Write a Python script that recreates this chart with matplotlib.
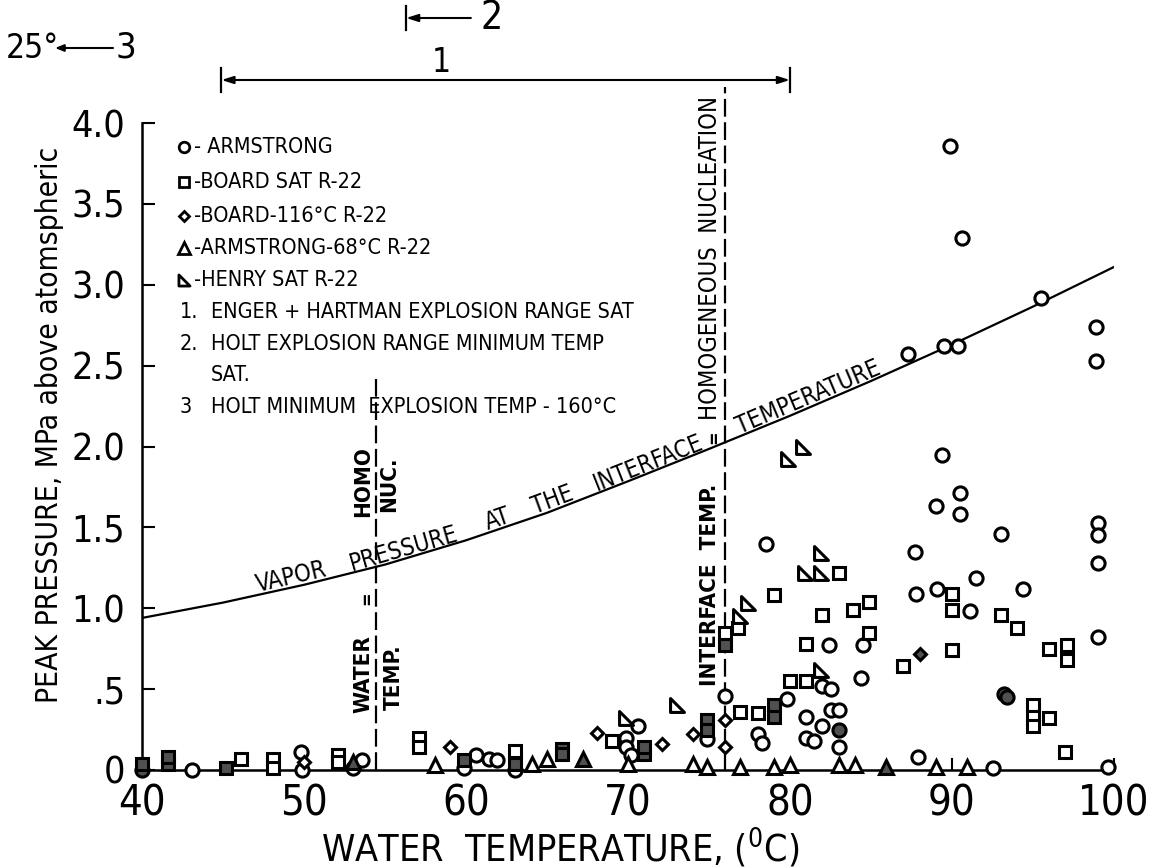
import numpy as np
import matplotlib
matplotlib.use("Agg")
import matplotlib.pyplot as plt
from matplotlib import font_manager as fm
from matplotlib import transforms
from matplotlib.patches import FancyArrowPatch
from matplotlib.path import Path
from matplotlib.lines import Line2D

# ---------------- data ----------------
# vapor pressure of R-22 at the interface temperature (MPa above atmospheric)
curve_T = [40, 45, 50, 55, 60, 65, 70, 75, 80, 85, 90, 95, 100]
curve_P = [0.94, 1.035, 1.145, 1.27, 1.42, 1.59, 1.785, 1.985, 2.19, 2.405, 2.63, 2.865, 3.11]

# Armstrong (open circles)
armstrong_T = [43.1, 49.8, 49.9, 53.0, 53.6, 59.9, 60.6, 61.4, 61.9, 63.0, 70.6, 69.9,
               69.9, 70.2, 74.9, 76.0, 78.0, 78.3, 79.8, 81.0, 81.0, 81.5, 82.0, 82.0,
               82.5, 82.5, 83.0, 83.0, 82.4, 84.4, 84.5, 87.9, 92.5, 99.6, 99.0, 91.1,
               78.5, 89.4, 90.5, 89.0, 90.5, 93.0, 99.0, 99.0, 99.0, 87.7, 91.5, 87.8,
               89.1, 94.4, 89.9, 90.6, 95.5, 98.9, 98.9, 87.3, 89.5, 90.4]
armstrong_P = [0.00, 0.11, 0.00, 0.01, 0.06, 0.01, 0.09, 0.07, 0.06, 0.00, 0.27, 0.20,
               0.14, 0.09, 0.19, 0.46, 0.22, 0.17, 0.44, 0.33, 0.20, 0.18, 0.27, 0.52,
               0.50, 0.37, 0.37, 0.14, 0.77, 0.57, 0.77, 0.08, 0.01, 0.02, 0.82, 0.98,
               1.40, 1.95, 1.71, 1.63, 1.58, 1.46, 1.53, 1.45, 1.28, 1.35, 1.19, 1.09,
               1.12, 1.12, 3.86, 3.29, 2.92, 2.74, 2.53, 2.57, 2.62, 2.62]
armstrong_shaded_T = [40.0, 83.0, 93.2, 93.4]
armstrong_shaded_P = [0.00, 0.25, 0.47, 0.45]

# Board, saturated R-22 (squares)
board_sat_T = [46.1, 48.1, 48.1, 52.1, 52.1, 57.1, 57.1, 63.0, 69.0, 76.0, 76.9, 76.8,
               78.0, 79.0, 80.0, 81.0, 81.0, 82.0, 83.0, 83.9, 84.9, 84.9, 87.0, 90.0,
               90.0, 90.0, 93.0, 94.0, 95.0, 95.0, 95.0, 96.0, 96.0, 97.1, 97.1, 97.0]
board_sat_P = [0.07, 0.07, 0.01, 0.09, 0.05, 0.20, 0.14, 0.12, 0.18, 0.85, 0.36, 0.88,
               0.35, 1.08, 0.55, 0.55, 0.78, 0.96, 1.22, 0.99, 1.04, 0.85, 0.64, 1.09,
               0.99, 0.74, 0.96, 0.88, 0.40, 0.33, 0.27, 0.32, 0.75, 0.77, 0.68, 0.11]
board_sat_shaded_T = [40.0, 41.6, 41.6, 45.2, 59.9, 63.0, 65.9, 65.9, 71.0, 71.0, 74.9,
                      74.9, 76.0, 79.0, 79.0]
board_sat_shaded_P = [0.04, 0.04, 0.08, 0.01, 0.06, 0.04, 0.13, 0.10, 0.10, 0.14, 0.31,
                      0.25, 0.77, 0.40, 0.33]

# Board, R-22 at -116 C (diamonds)
board_116_T = [50.0, 59.0, 68.1, 72.1, 74.0, 76.0, 76.0]
board_116_P = [0.05, 0.14, 0.23, 0.16, 0.22, 0.31, 0.14]
board_116_shaded_T = [88.0]
board_116_shaded_P = [0.72]

# Armstrong, R-22 at -68 C (triangles)
arm68_T = [58.1, 64.1, 65.0, 70.0, 74.0, 74.9, 76.9, 79.0, 80.0, 83.0, 84.0, 89.0, 90.9]
arm68_P = [0.03, 0.04, 0.07, 0.04, 0.04, 0.02, 0.02, 0.02, 0.03, 0.03, 0.03, 0.02, 0.02]
arm68_shaded_T = [53.0, 67.2, 85.9]
arm68_shaded_P = [0.05, 0.07, 0.02]

# Henry, saturated R-22 (right triangles)
henry_T = [69.9, 73.0, 76.9, 77.4, 79.9, 80.8, 81.9, 80.9, 81.9, 81.9]
henry_P = [0.32, 0.40, 0.95, 1.03, 1.92, 2.00, 1.34, 1.22, 1.22, 0.62]

# reference temperatures (C)
water_homo_T = 54.45          # homogeneous nucleation = water temperature
interface_homo_T = 76.0       # homogeneous nucleation = interface temperature
enger_hartman_range = [44.9, 80.0]
holt_range_min = 56.3
holt_min_temp = 25

x_ticks = [40, 50, 60, 70, 80, 90, 100]
y_ticks = [0, 0.5, 1.0, 1.5, 2.0, 2.5, 3.0, 3.5, 4.0]
y_tick_labels = ["0", ".5", "1.0", "1.5", "2.0", "2.5", "3.0", "3.5", "4.0"]

curve_words = ["VAPOR", "PRESSURE", "AT", "THE", "INTERFACE", "TEMPERATURE"]
curve_word_T = [49.3, 56.3, 62.1, 65.5, 71.4, 81.3]

legend_rows = [
    ("o", "- ARMSTRONG"),
    ("s", "-BOARD SAT R-22"),
    ("D", "-BOARD-116\u00b0C R-22"),
    ("^", "-ARMSTRONG-68\u00b0C R-22"),
    ("henry", "-HENRY SAT R-22"),
]
note_rows = [
    ("1.", "ENGER + HARTMAN EXPLOSION RANGE SAT"),
    ("2.", "HOLT EXPLOSION RANGE MINIMUM TEMP"),
    ("", "SAT."),
    ("3", "HOLT MINIMUM  EXPLOSION TEMP - 160\u00b0C"),
]

# ---------------- fonts ----------------
available = {f.name for f in fm.fontManager.ttflist}
if "Liberation Sans Narrow" in available:
    FAMILY, STRETCH = "Liberation Sans Narrow", "normal"
else:
    FAMILY, STRETCH = "DejaVu Sans", "condensed"
plt.rcParams["font.family"] = [FAMILY, "DejaVu Sans"]
plt.rcParams["font.stretch"] = STRETCH
plt.rcParams["mathtext.fontset"] = "custom"
plt.rcParams["mathtext.rm"] = FAMILY

# ---------------- layout helpers ----------------
W, H = 1152, 868
AX_L, AX_R, AX_T, AX_B = 142, 1114, 123, 770


def fx(px):
    return px / W


def fy(py):
    return 1 - py / H


fig = plt.figure(figsize=(W / 100, H / 100), dpi=100)
ax = fig.add_axes([fx(AX_L), fy(AX_B), (AX_R - AX_L) / W, (AX_B - AX_T) / H])
ax.set_xlim(40, 100)
ax.set_ylim(0, 4.0)
for side in ("top", "right"):
    ax.spines[side].set_visible(False)
for side in ("left", "bottom"):
    ax.spines[side].set_linewidth(1.8)
ax.set_xticks(x_ticks)
ax.set_xticklabels([str(t) for t in x_ticks])
ax.set_yticks(y_ticks)
ax.set_yticklabels(y_tick_labels)
ax.tick_params(direction="in", length=9, width=1.5)
ax.tick_params(axis="x", labelsize=30, pad=9)
ax.tick_params(axis="y", labelsize=27, pad=12)

fig.text(fx(560), fy(848), "WATER  TEMPERATURE, ($^{\\rm 0}$C)", fontsize=27,
         ha="center", va="center")
fig.text(fx(50), fy(425), "PEAK PRESSURE, MPa above atomspheric", fontsize=21.5,
         rotation=90, ha="center", va="center")

# ---------------- vapor pressure curve ----------------
ax.plot(curve_T, curve_P, color="black", lw=1.6, zorder=3)
slope = np.gradient(np.array(curve_P), np.array(curve_T))
lift = transforms.offset_copy(ax.transData, fig=fig, x=0, y=3, units="dots")
for word, t in zip(curve_words, curve_word_T):
    p = np.interp(t, curve_T, curve_P)
    ang = np.degrees(np.arctan(np.interp(t, curve_T, slope)))
    ax.text(t, p, word, transform=lift, rotation=ang, transform_rotates_text=True,
            rotation_mode="anchor", ha="center", va="baseline", fontsize=17)

# ---------------- homogeneous nucleation lines ----------------
dash = dict(color="black", lw=1.6, dashes=(8, 2.5), clip_on=False, zorder=2)
ax.plot([water_homo_T, water_homo_T], [0, 2.42], **dash)
ax.plot([interface_homo_T, interface_homo_T], [0, 4.22], **dash)


def side_text(t, py, dx, s, **kw):
    tr = transforms.offset_copy(transforms.blended_transform_factory(ax.transData, fig.transFigure),
                                fig=fig, x=dx, y=0, units="dots")
    ax.text(t, fy(py), s, transform=tr, rotation=90, ha="center", va="center", **kw)


bold = dict(fontsize=16, fontweight="bold")
side_text(water_homo_T, 482, -13, "HOMO", **bold)
side_text(water_homo_T, 484, 13, "NUC.", **bold)
side_text(water_homo_T, 598, -9, "=", fontsize=13, fontweight="bold")
side_text(water_homo_T, 674, -13, "WATER", **bold)
side_text(water_homo_T, 677, 18, "TEMP.", **bold)
side_text(interface_homo_T, 585, -15, "INTERFACE  TEMP.", **bold)
side_text(interface_homo_T, 437, -11, "=", fontsize=13, fontweight="bold")
side_text(interface_homo_T, 258, -15, "HOMOGENEOUS  NUCLEATION", fontsize=17)

# ---------------- data points ----------------
henry_marker = Path([(-1, -1), (1, -1), (-1, 1), (-1, -1)],
                    [Path.MOVETO, Path.LINETO, Path.LINETO, Path.CLOSEPOLY])
MK = {"o": 9.5, "s": 9, "D": 6.5, "^": 10, "henry": 10}
SHADE = "#505050"


def scatter(T, P, marker, face="white"):
    m = henry_marker if marker == "henry" else marker
    ax.plot(T, P, linestyle="none", marker=m, ms=MK[marker], mew=2.2,
            mfc=face, mec="black", clip_on=False, zorder=4)


scatter(armstrong_T, armstrong_P, "o")
scatter(armstrong_shaded_T, armstrong_shaded_P, "o", SHADE)
scatter(board_sat_T, board_sat_P, "s")
scatter(board_sat_shaded_T, board_sat_shaded_P, "s", SHADE)
scatter(board_116_T, board_116_P, "D")
scatter(board_116_shaded_T, board_116_shaded_P, "D", SHADE)
scatter(arm68_T, arm68_P, "^")
scatter(arm68_shaded_T, arm68_shaded_P, "^", SHADE)
scatter(henry_T, henry_P, "henry")

# ---------------- key ----------------
LEG_FS = 15.5
row_y = [147, 182, 216, 248, 280]
for (mk, label), py in zip(legend_rows, row_y):
    m = henry_marker if mk == "henry" else mk
    fig.add_artist(Line2D([fx(184)], [fy(py)], transform=fig.transFigure, marker=m,
                          ms=MK[mk] * 0.8, mew=2.0, mfc="white", mec="black",
                          linestyle="none"))
    fig.text(fx(194), fy(py), label, fontsize=LEG_FS, ha="left", va="center")
for (num, label), py in zip(note_rows, [312, 344, 375, 407]):
    if num:
        fig.text(fx(180), fy(py), num, fontsize=LEG_FS, ha="left", va="center")
    fig.text(fx(211), fy(py), label, fontsize=LEG_FS, ha="left", va="center")

# ---------------- explosion ranges above the plot ----------------
top = transforms.blended_transform_factory(ax.transData, fig.transFigure)
arrow_kw = dict(arrowstyle="-|>,head_length=0.7,head_width=0.22", color="black", lw=1.5,
                shrinkA=0, shrinkB=0)

# 1: Enger + Hartman range
y1 = fy(80)
t_mid = 0.5 * (enger_hartman_range[0] + enger_hartman_range[1])
for t_end in enger_hartman_range:
    ax.annotate("", xy=(t_end, y1), xytext=(t_mid, y1), xycoords=top, textcoords=top,
                arrowprops=arrow_kw, annotation_clip=False)
    ax.plot([t_end, t_end], [y1 - 12 / H, y1 + 12 / H], transform=top, color="black",
            lw=1.6, clip_on=False)
ax.text(58.5, fy(79), "1", transform=top, fontsize=24, ha="center", va="bottom")

# 2: Holt range minimum temperature
y2 = fy(18)
ax.annotate("", xy=(holt_range_min, y2), xytext=(holt_range_min + 4.0, y2), xycoords=top,
            textcoords=top, arrowprops=arrow_kw, annotation_clip=False)
ax.plot([holt_range_min, holt_range_min], [y2 - 12 / H, y2 + 12 / H], transform=top,
        color="black", lw=1.6, clip_on=False)
ax.text(holt_range_min + 5.3, y2, "2", transform=top, fontsize=28, ha="center",
        va="center")

# 3: Holt minimum explosion temperature, off the left of the scale
y3 = fy(48)
fig.text(fx(6), y3, f"{holt_min_temp}\u00b0", fontsize=24, ha="left", va="center")
fig.add_artist(FancyArrowPatch((fx(113), y3), (fx(55), y3), transform=fig.transFigure,
                               arrowstyle="-|>,head_length=5,head_width=2",
                               color="black", lw=1.5, shrinkA=0, shrinkB=0))
fig.text(fx(115), y3, "3", fontsize=26, ha="left", va="center")

fig.savefig("out.png", dpi=100)
